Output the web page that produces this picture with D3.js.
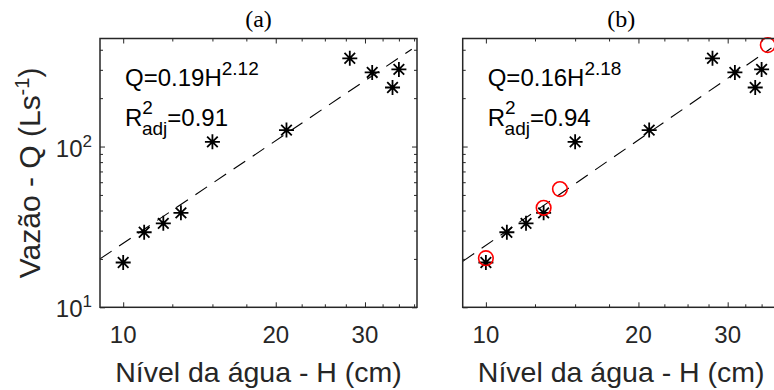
<!DOCTYPE html>
<html>
<head>
<meta charset="utf-8">
<script src="https://cdn.jsdelivr.net/npm/d3@7"></script>
<style>
html,body{margin:0;padding:0;background:#fff;}
svg{display:block;}
</style>
</head>
<body>
<svg id="chart" width="774" height="390"></svg>
<script>
// ---- data ----
const levelH = [10, 11, 12, 13, 15, 21, 28, 31, 34, 35];          // Nível da água (cm)
const flowQ  = [19, 29.3, 33.3, 38.7, 107, 126.6, 354, 289, 233, 302]; // Vazão (L/s)
const extraH = [10, 13, 14, 36];          // red circles, panel (b)
const extraQ = [20.2, 41.6, 54.4, 428];
const fitAH = [9, 37.1], fitAQ = [20.0, 403];
const fitBH = [9, 36.6], fitBQ = [19.3, 410];
const xMajor = [10, 20, 30];
const xMinor = [12.5, 15, 17.5, 22.5, 25, 27.5, 32.5, 35, 37.5];
const yMajor = [10, 100];
const yMinor = [20, 30, 40, 50, 60, 70, 80, 90, 200, 300, 400];
const panels = [
  {title: "(a)", coef: "0.19", expo: "2.12", r2: "0.91", fitH: fitAH, fitQ: fitAQ, extra: false, yLabels: true},
  {title: "(b)", coef: "0.16", expo: "2.18", r2: "0.94", fitH: fitBH, fitQ: fitBQ, extra: true, yLabels: false}
];

const svg = d3.select("#chart");
const W = 317, Hh = 268.8, topY = 38.5;
const lefts = [100, 462.7];
const axisColor = "#262626";
const sans = "'Liberation Sans', Arial, sans-serif";

const x = d3.scaleLog().domain([9, 38]).range([0, W]);
const y = d3.scaleLog().domain([10, 470]).range([Hh, 0]);

function star(g, cx, cy) {
  const a = 7.5, b = 5.3;
  const p = `M${cx-a},${cy}L${cx+a},${cy}M${cx},${cy-a}L${cx},${cy+a}` +
            `M${cx-b},${cy-b}L${cx+b},${cy+b}M${cx-b},${cy+b}L${cx+b},${cy-b}`;
  g.append("path").attr("d", p).attr("stroke", "#000").attr("stroke-width", 1.8).attr("fill", "none");
}

panels.forEach((p, i) => {
  const g = svg.append("g").attr("transform", `translate(${lefts[i]},${topY})`);

  // title
  svg.append("text").attr("x", lefts[i] + W / 2).attr("y", 27)
    .attr("text-anchor", "middle").attr("font-family", "'Liberation Serif','Times New Roman',serif")
    .attr("font-size", 24).attr("fill", "#000").text(p.title);

  // fit line
  const line = d3.line().x(d => x(d[0])).y(d => y(d[1]));
  g.append("path").datum(p.fitH.map((h, k) => [h, p.fitQ[k]]))
    .attr("d", line).attr("fill", "none").attr("stroke", "#000")
    .attr("stroke-width", 1.1).attr("stroke-dasharray", "14,9");

  // stars
  levelH.forEach((h, k) => star(g, x(h), y(flowQ[k])));

  if (p.extra) {
    g.selectAll("circle.extra").data(extraH.map((h, k) => [h, extraQ[k]])).enter()
      .append("circle").attr("class", "extra")
      .attr("cx", d => x(d[0])).attr("cy", d => y(d[1])).attr("r", 7.3)
      .attr("fill", "none").attr("stroke", "#ff0000").attr("stroke-width", 1.6);
  }

  // axes (ticks pointing inward)
  const styleAxis = sel => {
    sel.select(".domain").remove();
    sel.selectAll("line").attr("stroke", axisColor).attr("stroke-width", 1);
  };
  const addAxis = (gen, vals, size, tx, ty) =>
    g.append("g").attr("transform", `translate(${tx},${ty})`)
      .call(gen.tickValues(vals).tickSize(-size).tickFormat("")).call(styleAxis);
  addAxis(d3.axisBottom(x), xMajor, 5, 0, Hh);
  addAxis(d3.axisBottom(x), xMinor, 3, 0, Hh);
  addAxis(d3.axisTop(x), xMajor, 5, 0, 0);
  addAxis(d3.axisTop(x), xMinor, 3, 0, 0);
  addAxis(d3.axisLeft(y), yMajor, 5, 0, 0);
  addAxis(d3.axisLeft(y), yMinor, 3, 0, 0);
  addAxis(d3.axisRight(y), yMajor, 5, W, 0);
  addAxis(d3.axisRight(y), yMinor, 3, W, 0);

  // x tick labels
  g.selectAll("text.xt").data(xMajor).enter().append("text").attr("class", "xt")
    .attr("x", d => x(d)).attr("y", Hh + 36).attr("text-anchor", "middle")
    .attr("font-family", sans).attr("font-size", 24).attr("fill", axisColor)
    .text(d => d3.format("d")(d));

  // y tick labels (10^n)
  if (p.yLabels) {
    const yt = g.selectAll("text.yt").data(yMajor).enter().append("text").attr("class", "yt")
      .attr("x", -8).attr("y", d => y(d) + 10).attr("text-anchor", "end")
      .attr("font-family", sans).attr("font-size", 24).attr("fill", axisColor);
    yt.append("tspan").text("10");
    yt.append("tspan").attr("dy", -10).attr("font-size", 17).text(d => Math.round(Math.log10(d)));
  }

  // box
  g.append("rect").attr("width", W).attr("height", Hh).attr("fill", "none")
    .attr("stroke", axisColor).attr("stroke-width", 1.5);

  // equation text
  const eq = g.append("text").attr("x", 25).attr("y", 47).attr("font-family", sans)
    .attr("font-size", 24).attr("fill", "#000");
  eq.append("tspan").text("Q=" + p.coef + "H");
  eq.append("tspan").attr("dy", -11).attr("font-size", 19).text(p.expo);

  const r2 = g.append("text").attr("x", 25).attr("y", 87).attr("font-family", sans)
    .attr("font-size", 24).attr("fill", "#000");
  r2.append("tspan").text("R");
  r2.append("tspan").attr("dy", -12).attr("font-size", 19).text("2");
  r2.append("tspan").attr("dx", -11).attr("dy", 21).attr("font-size", 19).text("adj");
  r2.append("tspan").attr("dy", -9).text("=" + p.r2);

  // x label
  svg.append("text").attr("x", lefts[i] + W / 2).attr("y", 382)
    .attr("text-anchor", "middle").attr("font-family", sans)
    .attr("font-size", 28.5).attr("fill", axisColor).text("Nível da água - H (cm)");
});

// y label
const yl = svg.append("text").attr("transform", `translate(40,${topY + Hh / 2}) rotate(-90)`)
  .attr("text-anchor", "middle").attr("font-family", sans)
  .attr("font-size", 30).attr("fill", axisColor);
yl.append("tspan").text("Vazão - Q (Ls");
yl.append("tspan").attr("dy", -11).attr("font-size", 20).text("-1");
yl.append("tspan").attr("dy", 11).text(")");
</script>
</body>
</html>
